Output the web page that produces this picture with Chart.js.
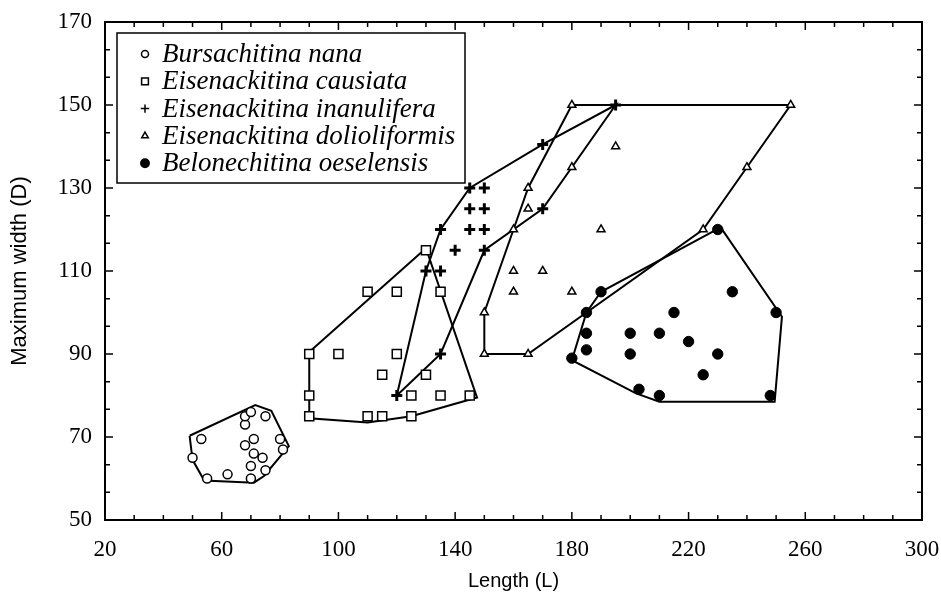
<!DOCTYPE html>
<html>
<head>
<meta charset="utf-8">
<script src="https://cdn.jsdelivr.net/npm/chart.js@4.4.0/dist/chart.umd.min.js"></script>
<style>
  html, body { margin: 0; padding: 0; background: #fff; }
</style>
</head>
<body>
<canvas id="chart" width="941" height="598"></canvas>
<script>
// ==========================================
// DATA
// ==========================================

// axis ticks
const xTicks = [20, 60, 100, 140, 180, 220, 260, 300];
const yTicks = [50, 70, 90, 110, 130, 150, 170];

// species names (legend order)
const speciesNames = [
    'Bursachitina nana',
    'Eisenackitina causiata',
    'Eisenackitina inanulifera',
    'Eisenackitina dolioliformis',
    'Belonechitina oeselensis'
];

// Bursachitina nana
const nanaL = [53, 50, 55, 62, 70, 70, 68, 71, 71, 74, 75, 68, 68, 70, 75, 80, 81];
const nanaD = [69.5, 65, 60, 61, 60, 63, 68, 69.5, 66, 65, 62, 73, 75, 76, 75, 69.5, 67];
const nanaHullL = [49, 71.5, 77, 83, 74.5, 71, 54, 50, 49];
const nanaHullD = [70.3, 77.7, 76.3, 67.8, 60.6, 59, 59.5, 64.5, 70.3];

// Eisenackitina causiata
const causiataL = [130, 110, 120, 135, 90, 100, 120, 115, 130, 90, 125, 135, 145, 90, 110, 115, 125];
const causiataD = [115, 105, 105, 105, 90, 90, 90, 85, 85, 80, 80, 80, 80, 75, 75, 75, 75];
const causiataHullL = [90, 130, 147.5, 125, 110, 90, 90];
const causiataHullD = [90.5, 115.5, 79.5, 75, 73.5, 74.5, 90.5];

// Eisenackitina inanulifera
const inanuliferaL = [145, 150, 145, 150, 145, 150, 135, 140, 150, 130, 135, 170, 170, 195, 135, 120];
const inanuliferaD = [130, 130, 125, 125, 120, 120, 120, 115, 115, 110, 110, 125, 140.5, 150, 90, 80];
const inanuliferaHullL = [120, 130, 135, 145, 170, 195, 170, 150, 135, 120];
const inanuliferaHullD = [80, 110, 120, 130, 140.5, 150, 125, 115, 90, 80];

// Eisenackitina dolioliformis
const doliolL = [180, 195, 180, 165, 165, 160, 190, 160, 170, 160, 180, 150, 150, 165, 240, 255, 225];
const doliolD = [150, 140, 135, 130, 125, 120, 120, 110, 110, 105, 105, 100, 90, 90, 135, 150, 120];
const doliolHullL = [150, 150, 160, 165, 180, 255, 240, 225, 165, 150];
const doliolHullD = [90, 100, 120, 130, 150, 150, 135, 120, 90, 90];

// Belonechitina oeselensis
const belonL = [230, 235, 250, 190, 185, 215, 185, 200, 210, 220, 185, 200, 230, 180, 225, 203, 210, 248];
const belonD = [120, 105, 100, 105, 100, 100, 95, 95, 95, 93, 91, 90, 90, 89, 85, 81.5, 80, 80];
const belonHullL = [231, 252, 249.5, 210, 202, 180, 185, 190, 231];
const belonHullD = [120.5, 99, 78.5, 78.5, 80.5, 88.5, 100, 105, 120.5];

// ==========================================
// HELPERS
// ==========================================

const toPoints = (xs, ys) => xs.map((v, i) => ({ x: v, y: ys[i] }));

// marker styles for each species (points / legend)
const markers = [
    { style: 'circle',   radius: 4.5, legendRadius: 3.5, width: 1.5, fill: '#fff' },
    { style: 'rect',     radius: 6.4, legendRadius: 4.8, width: 1.5, fill: '#fff' },
    { style: 'cross',    radius: 5.5, legendRadius: 4.2, width: 3,   fill: '#000' },
    { style: 'triangle', radius: 4.6, legendRadius: 3.8, width: 1.5, fill: '#fff' },
    { style: 'circle',   radius: 5.2, legendRadius: 4.2, width: 1,   fill: '#000' }
];

const pointSets = [
    toPoints(nanaL, nanaD),
    toPoints(causiataL, causiataD),
    toPoints(inanuliferaL, inanuliferaD),
    toPoints(doliolL, doliolD),
    toPoints(belonL, belonD)
];

const hullSets = [
    toPoints(nanaHullL, nanaHullD),
    toPoints(causiataHullL, causiataHullD),
    toPoints(inanuliferaHullL, inanuliferaHullD),
    toPoints(doliolHullL, doliolHullD),
    toPoints(belonHullL, belonHullD)
];

const datasets = [];
pointSets.forEach((pts, i) => {
    const m = markers[i];
    datasets.push({
        label: speciesNames[i],
        data: pts,
        pointStyle: m.style,
        pointRadius: m.radius,
        pointBorderWidth: m.width,
        pointBorderColor: '#000',
        pointBackgroundColor: m.fill,
        showLine: false
    });
});
hullSets.forEach((pts, i) => {
    datasets.push({
        label: speciesNames[i] + ' hull',
        data: pts,
        showLine: true,
        borderColor: '#000',
        borderWidth: 2,
        pointRadius: 0,
        fill: false,
        tension: 0
    });
});

// frame, inward ticks and boxed legend drawn on top of the chart
const framePlugin = {
    id: 'frame',
    afterDraw(chart) {
        const { ctx, chartArea: a, scales: { x, y } } = chart;
        ctx.save();
        ctx.strokeStyle = '#000';
        ctx.lineWidth = 2;
        ctx.strokeRect(a.left, a.top, a.right - a.left, a.bottom - a.top);

        ctx.lineWidth = 1.5;
        ctx.beginPath();
        // x: minor every 10, major every 40
        for (let v = xTicks[0]; v <= xTicks[xTicks.length - 1]; v += 10) {
            const px = x.getPixelForValue(v);
            const len = xTicks.includes(v) ? 8 : 5;
            ctx.moveTo(px, a.bottom); ctx.lineTo(px, a.bottom - len);
            ctx.moveTo(px, a.top); ctx.lineTo(px, a.top + len);
        }
        // y: two minor ticks per major interval
        for (let k = 0; k < yTicks.length; k++) {
            const v = yTicks[k];
            const py = y.getPixelForValue(v);
            ctx.moveTo(a.left, py); ctx.lineTo(a.left + 8, py);
            ctx.moveTo(a.right, py); ctx.lineTo(a.right - 8, py);
            if (k < yTicks.length - 1) {
                const step = (yTicks[k + 1] - v) / 3;
                for (let j = 1; j < 3; j++) {
                    const pm = y.getPixelForValue(v + step * j);
                    ctx.moveTo(a.left, pm); ctx.lineTo(a.left + 5, pm);
                    ctx.moveTo(a.right, pm); ctx.lineTo(a.right - 5, pm);
                }
            }
        }
        ctx.stroke();

        // legend box
        const bx = 117, by = 33, bw = 348, bh = 150;
        ctx.fillStyle = '#fff';
        ctx.fillRect(bx, by, bw, bh);
        ctx.lineWidth = 1.5;
        ctx.strokeRect(bx, by, bw, bh);
        ctx.font = 'italic 27px "Liberation Serif"';
        ctx.textBaseline = 'middle';
        ctx.textAlign = 'left';
        speciesNames.forEach((name, i) => {
            const m = markers[i];
            const rowY = 54 + i * 27.3;
            ctx.fillStyle = m.fill;
            ctx.strokeStyle = '#000';
            Chart.helpers.drawPoint(ctx, {
                pointStyle: m.style, radius: m.legendRadius, rotation: 0,
                borderWidth: m.style === 'cross' ? 2.5 : 1.3
            }, 145, rowY);
            ctx.fillStyle = '#000';
            ctx.fillText(name, 162, rowY + 1);
        });
        ctx.restore();
    }
};

// ==========================================
// CHART
// ==========================================

new Chart(document.getElementById('chart'), {
    type: 'scatter',
    data: { datasets: datasets },
    options: {
        responsive: false,
        animation: false,
        layout: { padding: { top: 22, right: 19, left: 0, bottom: 0 } },
        plugins: { legend: { display: false }, tooltip: { enabled: false } },
        scales: {
            x: {
                type: 'linear', min: 20, max: 300,
                afterBuildTicks: s => { s.ticks = xTicks.map(v => ({ value: v })); },
                afterFit: s => { s.height = 78; s.paddingLeft = 0; s.paddingRight = 0; },
                grid: { display: false, drawTicks: false },
                border: { display: false },
                ticks: { color: '#000', padding: 16, font: { family: 'Liberation Serif', size: 23 } },
                title: {
                    display: true, text: 'Length (L)', color: '#000',
                    font: { family: 'Liberation Sans', size: 20 }, padding: { top: 0, bottom: 5 }
                }
            },
            y: {
                type: 'linear', min: 50, max: 170,
                afterBuildTicks: s => { s.ticks = yTicks.map(v => ({ value: v })); },
                afterFit: s => { s.width = 105; s.paddingTop = 0; s.paddingBottom = 0; },
                grid: { display: false, drawTicks: false },
                border: { display: false },
                ticks: { color: '#000', padding: 13, font: { family: 'Liberation Serif', size: 23 } },
                title: {
                    display: true, text: 'Maximum width (D)', color: '#000',
                    font: { family: 'Liberation Sans', size: 22 }, padding: { top: 7, bottom: 0 }
                }
            }
        }
    },
    plugins: [framePlugin]
});
</script>
</body>
</html>
